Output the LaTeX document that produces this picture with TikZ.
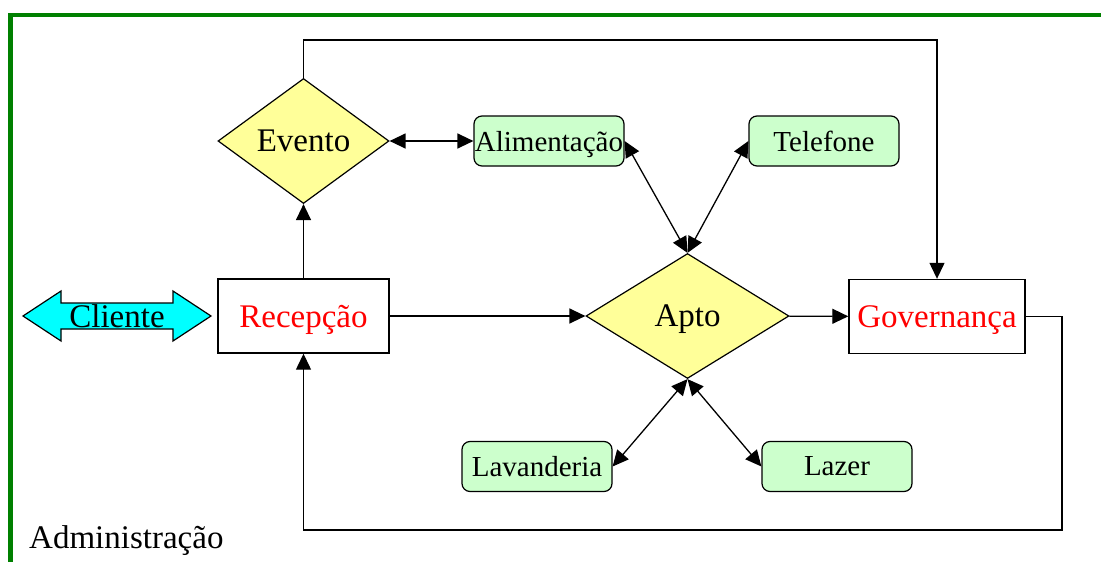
\documentclass[tikz,border=0pt]{standalone}
\usepackage{fontspec}
\setmainfont{Liberation Serif}
\usetikzlibrary{shapes,positioning,arrows.meta}
\definecolor{amarelo}{RGB}{255,255,153}
\definecolor{verdeclaro}{RGB}{204,255,204}
\definecolor{verdeborda}{RGB}{0,128,0}
\definecolor{ciano}{RGB}{0,255,255}
\tikzset{
  decisao/.style={draw,diamond,fill=amarelo,inner sep=0pt,line width=1.2pt,text depth=0pt,font=\fontsize{33}{38}\selectfont},
  setor/.style={draw,rectangle,line width=1.4pt,minimum height=74pt,text=red,text depth=0pt,font=\fontsize{33}{38}\selectfont},
  servico/.style={draw,rectangle,rounded corners=8pt,fill=verdeclaro,line width=1.2pt,minimum width=150pt,minimum height=50pt,inner sep=0pt,text depth=0pt,font=\fontsize{29}{34}\selectfont},
  fluxo/.style={-{Triangle[length=16pt,width=15pt]},line width=1.3pt},
  duplo/.style={{Triangle[length=16pt,width=15pt]}-{Triangle[length=16pt,width=15pt]},line width=1.3pt},
}

\begin{document}
\begin{tikzpicture}[x=1pt,y=-1pt]
\useasboundingbox (0,0) rectangle (1101,562);

% moldura
\draw[verdeborda,line width=4.7pt] (1101,15) -- (10.4,15) -- (10.4,562);

% cliente
\filldraw[fill=ciano,line width=1.2pt] (23,316) -- (61,291) -- (61,303) -- (173,303) -- (173,291) -- (211,316) -- (173,341) -- (173,329) -- (61,329) -- (61,341) -- cycle;
\node[text depth=0pt,font=\fontsize{33}{38}\selectfont] (cliente) at (117,316) {Cliente};

\node[setor,minimum width=171pt] (recep) at (303.5,316) {Recepção};
\node[setor,minimum width=176pt] (gov) at (937,316.5) {Governança};
\node[decisao,minimum width=171pt,minimum height=125pt] (evento) at (303.5,141) {Evento};
\node[decisao,minimum width=203pt,minimum height=125pt] (apto) at (687.5,316) {Apto};

\node[servico] (alim) at (549,141) {Alimentação};
\node[servico] (tel) at (824,141) {Telefone};
\node[servico] (lav) at (537,466.5) {Lavanderia};
\node[servico] (lazer) at (837,466.5) {Lazer};

\node[anchor=base west,inner sep=0pt,font=\fontsize{33}{38}\selectfont] (admin) at (29,548) {Administração};

\coordinate (topo) at (937,40);
\coordinate (retorno) at (1062,530);

\draw[fluxo] (recep) -- (evento);
\draw[fluxo] (recep) -- (apto);
\draw[fluxo] (apto) -- (gov);
\draw[fluxo] (evento.north) |- (topo) -- (gov.north);
\draw[fluxo] (gov.east) -| (retorno) -| (recep.south);

\draw[duplo] (evento) -- (alim);
\draw[duplo] (alim.east) -- (apto.north);
\draw[duplo] (tel.west) -- (apto.north);
\draw[duplo] (lav.east) -- (apto.south);
\draw[duplo] (lazer.west) -- (apto.south);
\end{tikzpicture}
\end{document}
